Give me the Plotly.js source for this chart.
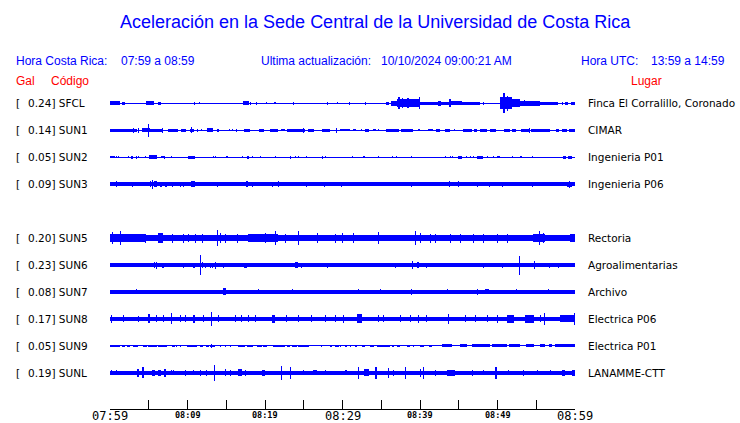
<!DOCTYPE html>
<html><head><meta charset="utf-8">
<script src="https://cdn.plot.ly/plotly-3.0.1.min.js"></script>
<style>html,body{margin:0;padding:0;background:#fff}#chart{width:740px;height:423px}</style>
</head><body><div id="chart"></div>
<script>
// ---- data (time in minutes after 07:59, amplitude as half-height in trace units) ----
const codes  = ['SFCL','SUN1','SUN2','SUN3','SUN5','SUN6','SUN7','SUN8','SUN9','SUNL'];
const gal    = ['0.24','0.14','0.05','0.09','0.20','0.23','0.08','0.17','0.05','0.19'];
const places = ['Finca El Corralillo, Coronado','CIMAR','Ingenieria P01','Ingenieria P06','Rectoria',
                'Agroalimentarias','Archivo','Electrica P06','Electrica P01','LANAMME-CTT'];
const rowIndex = [0,1,2,3,5,6,7,8,9,10];
const baseAmp  = [0.5,0.5,0.5,1.8,3,1.6,1.6,2.3,0.5,1.8];

const tickMinutes = [0,5,10,15,20,25,30,35,40,45,50,55,60];
const majorTickMinutes = [0,30,60];
const majorTickLabels  = ['07:59','08:29','08:59'];
const minorTickMinutes = [10,20,40,50];
const minorTickLabels  = ['08:09','08:19','08:39','08:49'];

// segments: [start, end, amplitude]
const SFCL = [[0,1.3,2],[1.5,1.9,1.7],[4.65,5.68,2],[6.2,6.59,1.7],[10.85,10.85,1.5],[11.49,11.49,1],
 [17.18,17.95,2],[18.17,18.17,1.7],[18.94,18.94,1.7],[20.23,20.23,1],[21.18,21.44,1],[23.63,23.63,1.7],
 [28.02,28.02,1.7],[29.31,29.31,1],[30.86,30.86,1.5],[32.93,32.93,1.5],[35.64,36.03,1.5],[36.29,37.06,2.5],
 [37.06,40.03,4],[37.19,37.45,6],[37.71,37.71,5],[38.3,38.6,5],[39.9,40.03,6],[40.03,43.9,1.5],
 [42.36,42.75,2.5],[43.78,44.04,4],[44.04,45.46,2],[45.46,47.78,1.5],[48.13,48.13,1.5],
 [50.3,51.9,6],[50.75,51.0,10],[51.3,51.3,7.3],[51.9,52.95,4],[52.95,55.53,2.5],[53.4,53.6,3],
 [55.53,57.86,1.5],[58.33,58.33,1.5],[58.76,59.14,1.5],[59.53,60,1.5]];
const SUN1 = [[0,2.32,1.7],[2.32,3.49,1.7],[2.97,2.97,2.5],[3.62,3.62,2.5],[4.13,5.17,2],[4.95,4.95,6.5],
 [5.17,6.84,1.7],[6.72,6.72,2.5],[7.49,8.78,1.7],[9.17,9.81,1.7],[10.33,10.85,1.7],[10.46,10.46,3],
 [11.24,11.24,1.5],[11.75,11.75,1],[12.53,13.3,2.2],[13.82,14.08,1.7],[15.37,15.37,1],[15.75,15.75,1],
 [16.27,16.4,1.7],[17.3,18.08,1.7],[19.24,19.89,1.7],[20.66,21.7,1.7],[22.08,22.6,1],[22.86,25.18,1.7],
 [24.92,24.92,2.5],[25.57,26.34,1.7],[27.38,28.41,1.7],[29.28,29.28,2.5],[29.7,30.35,1],[30.35,30.99,1],
 [31.38,31.77,1],[32.41,32.41,1],[32.93,33.45,1.7],[33.96,34.35,1],[34.61,34.61,1],[35.64,37.32,1.7],
 [37.58,39.13,1.7],[39.78,40.03,1],[41.07,41.71,1],[42.1,42.62,1.7],[43.26,43.91,1.5],[44.42,44.42,1],
 [45.59,46.75,1.7],[47.01,47.4,1.7],[47.78,48.69,1.7],[49.07,49.85,1.7],[50.88,51.66,1.5],[51.92,52.43,1.5],
 [53.08,54.24,1.7],[54.11,54.11,2.5],[54.37,56.82,1.7],[57.6,57.98,1.5],[58.37,59.02,1.7],[59.27,60,1.7]];
const SUN2 = [[0,0.3,1],[0.28,0.65,1],[0.9,0.9,1],[1.16,1.16,1],[2.45,2.45,1],[2.71,2.97,1.5],[3.36,3.36,1.5],
 [3.62,3.62,1],[4.52,4.52,1],[5.04,6.07,1.7],[6.59,6.97,1],[6.97,6.97,1.5],[7.88,7.88,1],[10.07,10.98,1.5],
 [13.3,13.3,1],[13.56,13.56,1],[14.98,14.98,1],[15.11,15.11,1],[17.05,17.05,1],[17.69,17.95,1.5],
 [18.34,18.47,1],[19.37,19.37,1],[21.31,21.31,1],[23.25,23.25,1.5],[23.89,23.89,1],[24.28,24.28,1],
 [25.31,25.31,1],[27.38,27.38,1.5],[27.77,27.77,1],[31.25,31.25,1],[32.67,32.93,1],[34.61,34.61,1],
 [36.42,36.42,1],[36.93,36.93,1],[38.87,38.87,1],[43.26,43.26,1],[43.91,43.91,1],[44.17,44.17,1],
 [44.94,45.46,1.5],[45.97,45.97,1],[46.49,46.49,1],[46.88,46.88,1],[47.4,48.17,1.5],[48.69,48.69,1],
 [49.46,49.46,1],[49.98,50.36,1],[51.91,51.91,1],[52.95,53.2,1.3],[54.5,54.5,1],[58.5,58.89,1.5],[59.14,59.66,1.5]];
const SUN3 = [[0.9,0.9,3],[2.84,2.84,2.5],[5.17,5.17,3],[5.42,5.42,4.5],[5.68,6.07,3],[6.46,6.72,2.5],
 [7.1,7.1,2.5],[7.23,7.23,2.5],[8.01,8.01,2.5],[9.04,9.04,2.5],[9.43,9.43,2.5],[10.46,10.98,3],
 [13.82,13.82,2.5],[17.56,17.82,3],[18.34,18.34,2.5],[20.92,20.92,2.5],[21.7,21.7,3],[25.31,25.31,2.5],
 [27.64,27.64,2.5],[29.83,29.83,2.5],[36.29,36.29,2],[36.93,36.93,2],[38.87,38.87,2.5],[40.42,40.42,2],
 [43.13,43.13,2],[43.78,43.78,3],[44.94,44.94,3],[47.4,47.4,2.5],[48.94,48.94,2.5],[50.62,50.62,2.5],
 [54.5,54.5,2.5],[57.21,57.21,2],[59.02,59.66,2.5],[59.27,59.27,3.5]];
const SUN5 = [[0,4.5,4],[0.26,0.26,6],[1.29,1.29,7],[4.52,4.52,4.5],[6.2,6.84,5],[8.01,8.01,4.5],[9.43,9.43,4.5],
 [10.07,10.07,4],[10.98,10.98,4.5],[11.88,11.88,4.5],[13.82,13.82,8],[14.21,14.21,5],[14.85,14.85,4.5],
 [16.4,16.4,4.5],[17.82,21.7,4],[20.02,20.02,5],[21.31,21.31,7],[22.6,22.6,4.5],[24.28,24.28,7],
 [26.73,26.73,5],[29.06,29.06,4.5],[29.96,29.96,5],[31.38,31.38,5],[34.61,34.61,6],[39.39,39.39,7],
 [40.03,40.03,5],[41.33,41.33,4.5],[41.97,41.97,4.5],[43.91,43.91,4.5],[45.2,45.2,4.5],[46.88,46.88,4.5],
 [48.17,48.17,4.5],[49.98,49.98,4.5],[51.27,51.27,4.5],[54.63,56.18,4],[55.4,55.4,7],[55.92,55.92,5],[59.4,60,4]];
const SUN6 = [[5.72,5.72,3],[5.94,5.94,3.5],[6.68,7.01,2.5],[9.47,9.47,2.5],[10.76,10.98,2.5],[11.71,11.71,10],
 [11.97,11.97,3],[12.27,12.27,2.5],[12.91,12.91,2.5],[13.21,13.21,2.5],[13.56,13.56,3.5],[14.63,14.63,2.5],
 [15.37,15.37,2],[15.92,15.92,2],[17.34,17.65,2.5],[18.64,18.64,2],[21.09,21.73,2],[23.03,23.03,2],
 [23.89,24.32,3],[24.76,24.76,2.5],[26.47,26.47,2],[26.86,27.51,2],[27.98,28.19,2.5],[28.63,28.63,2],
 [36.8,36.8,2.5],[39.09,39.09,4],[39.61,39.9,3],[40.9,40.9,2.5],[48.21,48.21,2.5],[50.66,50.66,2.5],
 [52.86,52.86,9.5],[53.33,53.59,2],[54.8,54.8,4],[56.69,56.69,2.5],[57.89,57.89,2.5]];
const SUN7 = [[3.36,3.36,2.5],[6.24,6.24,2],[14.63,14.94,3.5],[19.15,19.15,2.5],[20.24,20.24,2],[23.54,23.54,2.5],
 [24.54,24.54,2],[26.6,26.6,2],[32.07,32.07,2.5],[32.5,32.5,2],[34.0,34.0,2],[34.96,34.96,2.5],[36.16,36.16,2],
 [38.87,38.87,3],[39.81,39.81,2],[43.56,43.56,2.5],[43.91,45.2,2],[47.36,47.36,3],[48.43,48.85,2.5],
 [52.39,52.39,2.5],[55.53,55.53,2],[56.6,56.6,2.5],[59.79,59.79,2]];
const SUN8 = [[0.22,0.22,4],[1.72,1.72,3.5],[3.65,3.65,3],[4.95,5.17,4.5],[6.03,6.03,3.5],[6.88,6.88,3.5],
 [7.97,7.97,5.5],[9.04,9.04,3.5],[9.69,9.69,3.5],[10.76,10.98,4],[12.05,12.05,3.5],[13.04,13.04,7],
 [13.99,13.99,3.5],[16.14,16.14,3.5],[17.01,17.01,3.5],[17.86,17.86,3.5],[18.73,18.73,3.5],[20.88,21.31,4],
 [22.82,22.82,3.5],[24.32,24.32,3.5],[26.05,26.05,3.5],[27.77,27.77,3.5],[29.06,29.06,3.5],[30.13,30.13,4],
 [31.86,32.5,4.5],[34.65,34.65,3.5],[35.29,35.29,3.5],[37.45,37.45,3.5],[38.74,38.74,3.5],[39.81,39.81,4],
 [40.9,40.9,3.5],[43.69,43.69,5],[45.85,45.85,3.5],[47.14,47.14,3.5],[48.65,48.65,3.5],[49.94,49.94,4],
 [51.23,52.08,4],[53.59,54.66,4],[55.53,55.53,3.5],[56.05,56.05,6],[58.11,60,3.5],[59.92,59.92,6]];
const SUN9 = [[0,1.29,1.3],[1.51,1.94,1.3],[2.15,2.58,1.3],[3.01,3.66,1.3],[4.3,4.74,1.3],[4.95,6.03,1.3],
 [6.24,7.32,1.3],[7.97,8.39,1.3],[8.61,8.61,1.3],[9.04,9.04,1.3],[9.9,11.19,1.3],[11.62,12.05,1.3],
 [12.4,12.78,1.3],[12.91,13.56,1.3],[13.04,13.04,2],[14.21,14.21,1.3],[14.85,14.85,1.3],[15.5,15.5,1.3],
 [16.57,17.43,1.3],[17.65,18.51,1.3],[18.94,19.59,1.3],[19.8,20.24,1.3],[21.09,22.6,1.3],[22.82,23.25,1.3],
 [23.46,24.11,1.3],[24.32,25.62,1.3],[27.34,27.34,1.3],[28.41,28.63,1.3],[29.06,29.49,1.3],[29.7,29.7,1.3],
 [30.35,30.57,1.3],[30.99,30.99,1.3],[31.64,31.86,1.3],[32.5,32.93,1.3],[33.58,34.01,1.3],[34.44,36.16,1.3],
 [36.38,36.59,1.3],[37.02,37.45,1.3],[38.31,38.74,1.3],[39.18,39.18,1.3],[40.03,40.46,1.3],[41.1,41.54,1.3],
 [42.84,44.13,1.5],[45.2,46.06,1.5],[46.71,49.07,1.5],[49.29,51.23,1.5],[51.44,52.95,1.5],[53.63,54.76,1.5],
 [55.53,56.18,1.5],[56.61,57.04,1.5],[57.47,60,1.5]];
const SUNL = [[0.22,0.22,2.5],[0.87,0.87,2.5],[3.53,3.78,4],[4.09,4.43,5.5],[5.39,5.81,3],[6.24,6.59,3],
 [7.01,7.23,4],[7.97,7.97,2.5],[8.17,8.17,2.5],[9.69,9.69,3],[10.76,10.76,2.5],[11.62,11.62,3],[12.49,12.49,3],
 [13.47,13.47,8],[14.85,14.85,3.5],[15.5,15.5,3],[16.57,17.01,3.5],[17.43,17.43,3],[19.59,20.02,3],
 [22.04,22.25,7],[23.25,23.25,6],[24.96,24.96,2.5],[26.25,26.69,2.5],[27.77,27.77,2.5],[30.35,30.35,2.5],
 [30.57,30.57,2.5],[32.07,32.07,6],[32.71,33.36,3.5],[34.22,34.44,6],[35.94,35.94,5],[36.59,36.59,3],
 [38.1,38.1,6],[40.03,40.03,4],[40.46,40.46,6],[41.97,41.97,3],[43.48,44.55,3],[46.71,46.71,3],
 [48.21,48.21,2.5],[49.72,49.94,6],[51.44,51.44,2.5],[53.37,53.37,3],[55.1,55.1,2.5],[56.82,56.82,2.5],
 [58.33,58.76,3],[59.62,60,3]];
const stationSegments = [SFCL,SUN1,SUN2,SUN3,SUN5,SUN6,SUN7,SUN8,SUN9,SUNL];

// ---- layout geometry ----
const W = 740, H = 423, L = 110, R = 575, T = 84, B = 409.5;
const ROW_PX = 27, TOP_ROW = (103.3 - T) / ROW_PX * -1;
const MIN_W = 60 / (R - L);          // one pixel in minutes
const BLUE = 'rgb(0,0,255)';

const traces = stationSegments.map((segs, i) => {
  const k = rowIndex[i];
  const all = [[0, 60, baseAmp[i]]].concat(segs);
  const x = [], w = [], base = [], h = [];
  all.forEach(([t0, t1, a]) => {
    const width = Math.max(t1 - t0, MIN_W);
    x.push((t0 + t1) / 2);
    w.push(width);
    base.push(k - a / ROW_PX);
    h.push(2 * a / ROW_PX);
  });
  return {type: 'bar', x, y: h, base, width: w, marker: {color: BLUE, line: {width: 0}},
          hoverinfo: 'skip', showlegend: false};
});

const px = x => (x - L) / (R - L);
const py = y => (B - y) / (B - T);
function ann(text, x, y, anchor, font) {
  return {text, x: px(x), y: py(y), xref: 'paper', yref: 'paper', xanchor: anchor, yanchor: 'middle',
          showarrow: false, font};
}
const fTitle = {family: 'Liberation Sans, Arial, sans-serif', size: 18, color: BLUE};
const fHead  = {family: 'Liberation Sans, Arial, sans-serif', size: 12, color: BLUE};
const fRed   = {family: 'Liberation Sans, Arial, sans-serif', size: 12, color: 'rgb(255,0,0)'};
const fLab   = {family: 'DejaVu Sans, sans-serif', size: 10.5, color: 'black'};
const fMajor = {family: 'DejaVu Sans Mono, monospace', size: 12, color: 'black'};
const fMinor = {family: 'DejaVu Sans Mono, monospace', size: 8.5, color: 'black'};

const annotations = [
  ann('Aceleración en la Sede Central de la Universidad de Costa Rica', 375, 22, 'center', fTitle),
  ann('Hora Costa Rica:', 14, 61, 'left', fHead),
  ann('07:59 a 08:59', 119, 61, 'left', fHead),
  ann('Ultima actualización:', 259, 61, 'left', fHead),
  ann('10/10/2024 09:00:21 AM', 379, 61, 'left', fHead),
  ann('Hora UTC:', 579, 61, 'left', fHead),
  ann('13:59 a 14:59', 649, 61, 'left', fHead),
  ann('Gal', 14, 81, 'left', fRed),
  ann('Código', 49, 81, 'left', fRed),
  ann('Lugar', 629, 81, 'left', fRed)
];
codes.forEach((c, i) => {
  const yc = T + (rowIndex[i] - TOP_ROW) * ROW_PX;
  annotations.push(ann('[', 14, yc, 'left', fLab));
  annotations.push(ann(gal[i] + '] ' + c, 26, yc, 'left', fLab));
  annotations.push(ann(places[i], 586, yc, 'left', fLab));
});
// time-axis labels, placed on the x axis scale
majorTickMinutes.forEach((m, i) => annotations.push({text: majorTickLabels[i], x: m, xref: 'x',
  y: py(417), yref: 'paper', xanchor: 'center', yanchor: 'middle', showarrow: false, font: fMajor}));
minorTickMinutes.forEach((m, i) => annotations.push({text: '<b>' + minorTickLabels[i] + '</b>', x: m, xref: 'x',
  y: py(416), yref: 'paper', xanchor: 'center', yanchor: 'middle', showarrow: false, font: fMinor}));

const layout = {
  width: W, height: H,
  margin: {l: L, r: W - R, t: T, b: H - B, pad: 0},
  paper_bgcolor: 'white', plot_bgcolor: 'white',
  showlegend: false, barmode: 'overlay', bargap: 0,
  xaxis: {range: [0, 60], tickmode: 'array', tickvals: tickMinutes, showticklabels: false,
          ticks: 'inside', ticklen: 9, tickwidth: 1, tickcolor: 'black',
          showline: true, linecolor: 'black', linewidth: 1, showgrid: false, zeroline: false,
          fixedrange: true, automargin: false},
  yaxis: {range: [TOP_ROW + (B - T) / ROW_PX, TOP_ROW], visible: false, showgrid: false,
          zeroline: false, fixedrange: true},
  annotations
};
Plotly.newPlot('chart', traces, layout, {displayModeBar: false, staticPlot: true});
</script>
</body></html>
